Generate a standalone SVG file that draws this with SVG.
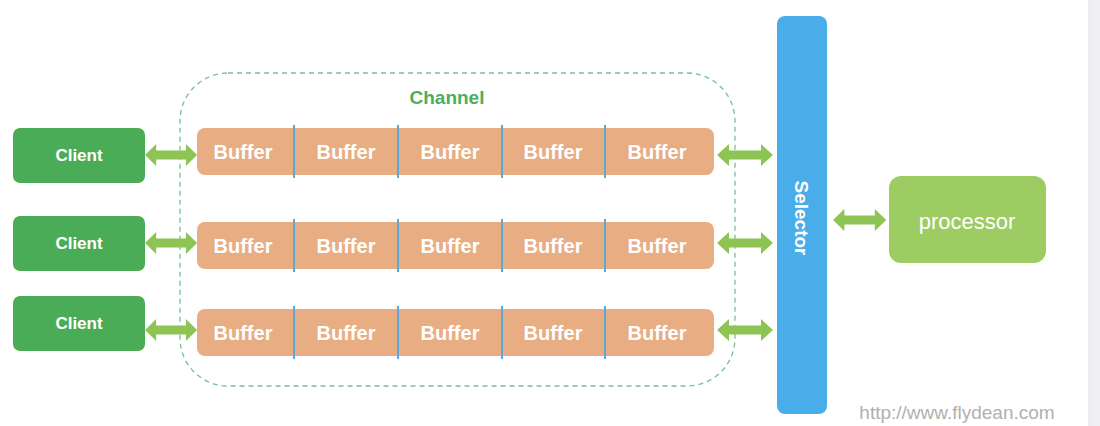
<svg xmlns="http://www.w3.org/2000/svg" width="1100" height="426" viewBox="0 0 1100 426">
<style>
.client{fill:#4bac58}
.buf{fill:#e9ad84}
.div{stroke:#5aa9dc;stroke-width:2}
.arr{fill:#8dc453}
.t{font-family:"Liberation Sans",Arial,sans-serif;fill:#fff;text-anchor:middle}
.tc{font-size:17px;font-weight:bold}
.tb{font-size:20px;font-weight:bold}
</style>
<defs>
<polygon id="darrow" points="0,0 12,-11 12,-4.5 44,-4.5 44,-11 56,0 44,11 44,4.5 12,4.5 12,11"/>
</defs>
<rect x="1089" y="0" width="11" height="426" fill="#efeff4"/>
<line x1="1089" y1="0" x2="1089" y2="426" stroke="#e2e2e6" stroke-width="1"/>
<g id="channel">
<rect x="180" y="73" width="555" height="313" rx="48" fill="none" stroke="#74c290" stroke-width="1.3" stroke-dasharray="5,4"/>
<text x="447" y="104" font-family="Liberation Sans,Arial,sans-serif" font-size="19" font-weight="bold" fill="#4cae5c" text-anchor="middle">Channel</text>
</g>
<g id="client1"><rect class="client" x="13" y="128" width="132" height="55" rx="7"/><text class="t tc" x="79" y="161">Client</text></g>
<g id="client2"><rect class="client" x="13" y="216" width="132" height="55" rx="7"/><text class="t tc" x="79" y="249">Client</text></g>
<g id="client3"><rect class="client" x="13" y="296" width="132" height="55" rx="7"/><text class="t tc" x="79" y="329">Client</text></g>
<g id="buffers1">
<rect class="buf" x="197" y="128" width="517" height="47" rx="8"/>
<text class="t tb" x="243" y="159">Buffer</text><text class="t tb" x="346" y="159">Buffer</text><text class="t tb" x="450" y="159">Buffer</text><text class="t tb" x="553" y="159">Buffer</text><text class="t tb" x="657" y="159">Buffer</text>
<line class="div" x1="294" y1="125" x2="294" y2="178"/><line class="div" x1="398" y1="125" x2="398" y2="178"/><line class="div" x1="502" y1="125" x2="502" y2="178"/><line class="div" x1="605" y1="125" x2="605" y2="178"/>
</g>
<g id="buffers2">
<rect class="buf" x="197" y="222" width="517" height="47" rx="8"/>
<text class="t tb" x="243" y="253">Buffer</text><text class="t tb" x="346" y="253">Buffer</text><text class="t tb" x="450" y="253">Buffer</text><text class="t tb" x="553" y="253">Buffer</text><text class="t tb" x="657" y="253">Buffer</text>
<line class="div" x1="294" y1="219" x2="294" y2="272"/><line class="div" x1="398" y1="219" x2="398" y2="272"/><line class="div" x1="502" y1="219" x2="502" y2="272"/><line class="div" x1="605" y1="219" x2="605" y2="272"/>
</g>
<g id="buffers3">
<rect class="buf" x="197" y="309" width="517" height="47" rx="8"/>
<text class="t tb" x="243" y="340">Buffer</text><text class="t tb" x="346" y="340">Buffer</text><text class="t tb" x="450" y="340">Buffer</text><text class="t tb" x="553" y="340">Buffer</text><text class="t tb" x="657" y="340">Buffer</text>
<line class="div" x1="294" y1="306" x2="294" y2="359"/><line class="div" x1="398" y1="306" x2="398" y2="359"/><line class="div" x1="502" y1="306" x2="502" y2="359"/><line class="div" x1="605" y1="306" x2="605" y2="359"/>
</g>
<g id="selector">
<rect x="777" y="16" width="50" height="398" rx="8" fill="#48ade8"/>
<text class="t" x="0" y="0" font-size="19" font-weight="bold" transform="translate(795,218) rotate(90)">Selector</text>
</g>
<g id="processor">
<rect x="889" y="176" width="157" height="87" rx="12" fill="#9dcc63"/>
<text class="t" x="967" y="229" font-size="22">processor</text>
</g>
<g id="connectors">
<use href="#darrow" class="arr" transform="translate(145,155) scale(0.93,1)"/>
<use href="#darrow" class="arr" transform="translate(145,243) scale(0.93,1)"/>
<use href="#darrow" class="arr" transform="translate(145,330) scale(0.93,1)"/>
<use href="#darrow" class="arr" transform="translate(717,155)"/>
<use href="#darrow" class="arr" transform="translate(717,243)"/>
<use href="#darrow" class="arr" transform="translate(717,330)"/>
<use href="#darrow" class="arr" transform="translate(833,220) scale(0.95,1)"/>
</g>
<text x="957" y="419" font-family="Liberation Sans,Arial,sans-serif" font-size="19" fill="#b0b0b0" text-anchor="middle">http://www.flydean.com</text>
</svg>
